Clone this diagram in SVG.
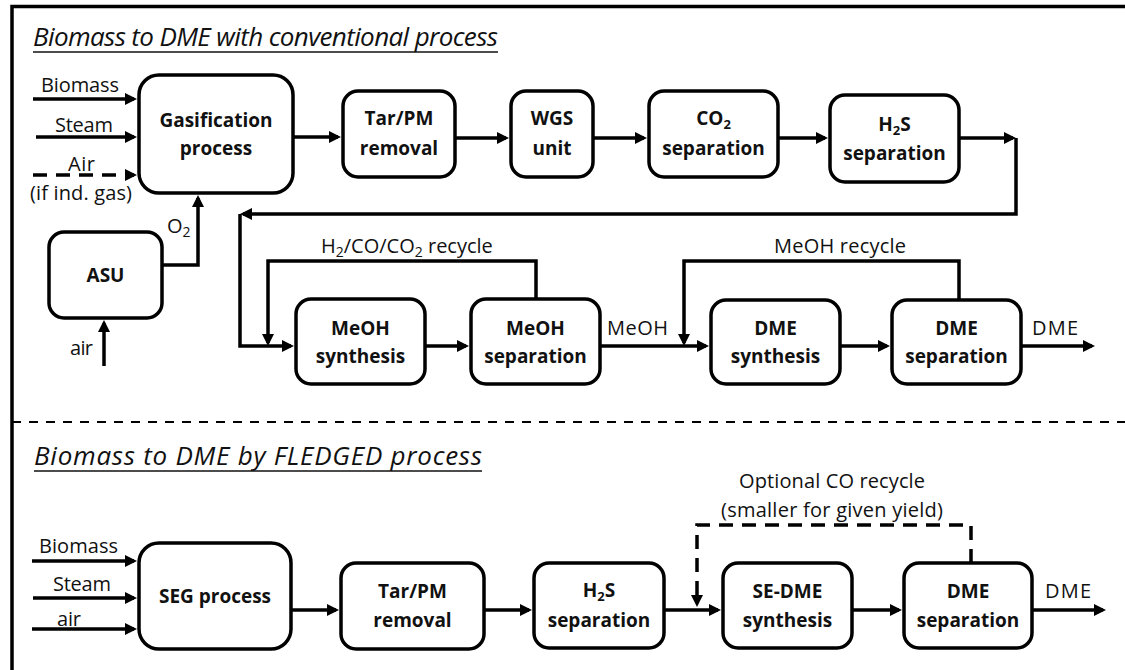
<svg xmlns="http://www.w3.org/2000/svg" width="1125" height="670" viewBox="0 0 1125 670">
<defs>
<style>
.box{fill:#fff;stroke:#000;stroke-width:3.5}
.ln{fill:none;stroke:#000;stroke-width:3.5}
.dash{stroke-dasharray:14 9}
.bl{font-family:'Open Sans','Liberation Sans',sans-serif;font-weight:bold;font-size:19px;text-anchor:middle;fill:#111}
.lb{font-family:'Open Sans','Liberation Sans',sans-serif;font-size:20px;fill:#111}
.tt{font-family:'Open Sans','Liberation Sans',sans-serif;font-style:italic;font-size:26px;fill:#111}
.ul{stroke:#111;stroke-width:1.6}
.frame{fill:none;stroke:#000;stroke-width:3.5}
.sep{stroke:#000;stroke-width:2;stroke-dasharray:9 8}
</style>
<marker id="ah" markerUnits="userSpaceOnUse" markerWidth="13" markerHeight="12" refX="9" refY="6" orient="auto">
<path d="M0,0 L12,6 L0,12 z" fill="#000"/>
</marker>
</defs>
<rect width="1125" height="670" fill="#fff"/>
<path class="frame" d="M12,670 V6.5 H1125"/>
<line class="sep" x1="12" y1="422" x2="1125" y2="422"/>

<g id="titles">
<text class="tt" x="33" y="46" textLength="465">Biomass to DME with conventional process</text>
<line class="ul" x1="33" y1="52" x2="498" y2="52"/>
<text class="tt" x="34" y="465" textLength="448">Biomass to DME by FLEDGED process</text>
<line class="ul" x1="34" y1="471" x2="482" y2="471"/>
</g>

<g id="connectors">
<path class="ln" d="M33,99 H134" marker-end="url(#ah)"/>
<path class="ln" d="M36,137 H134" marker-end="url(#ah)"/>
<path class="ln dash" d="M33,175 H134" marker-end="url(#ah)"/>
<path class="ln" d="M293,137 H338" marker-end="url(#ah)"/>
<path class="ln" d="M455,138 H506" marker-end="url(#ah)"/>
<path class="ln" d="M593,138 H644" marker-end="url(#ah)"/>
<path class="ln" d="M778,138 H825" marker-end="url(#ah)"/>
<path class="ln" d="M959,138 H1013" marker-end="url(#ah)"/>
<path class="ln" d="M1016,138 V214 H243" marker-end="url(#ah)"/>
<path class="ln" d="M240,214 V346 H291" marker-end="url(#ah)"/>
<path class="ln" d="M162,265 H198 V198" marker-end="url(#ah)"/>
<path class="ln" d="M104,366 V323" marker-end="url(#ah)"/>
<path class="ln" d="M536,299 V261 H268 V343" marker-end="url(#ah)"/>
<path class="ln" d="M425,346 H466" marker-end="url(#ah)"/>
<path class="ln" d="M600,346 H706" marker-end="url(#ah)"/>
<path class="ln" d="M959,300 V261 H684 V343" marker-end="url(#ah)"/>
<path class="ln" d="M840,346 H887" marker-end="url(#ah)"/>
<path class="ln" d="M1021,346 H1092" marker-end="url(#ah)"/>

<path class="ln" d="M32,561 H134" marker-end="url(#ah)"/>
<path class="ln" d="M33,598 H134" marker-end="url(#ah)"/>
<path class="ln" d="M32,629 H134" marker-end="url(#ah)"/>
<path class="ln" d="M291,610 H336" marker-end="url(#ah)"/>
<path class="ln" d="M484,610 H529" marker-end="url(#ah)"/>
<path class="ln" d="M664,610 H718" marker-end="url(#ah)"/>
<path class="ln dash" d="M971,563 V525 H697 V604" marker-end="url(#ah)"/>
<path class="ln" d="M852,610 H899" marker-end="url(#ah)"/>
<path class="ln" d="M1032,610 H1103" marker-end="url(#ah)"/>
</g>

<g id="connector-labels">
<text class="lb" x="41" y="92" textLength="78">Biomass</text>
<text class="lb" x="55" y="132" textLength="58">Steam</text>
<text class="lb" x="68" y="171" textLength="27">Air</text>
<text class="lb" x="30" y="200" textLength="102">(if ind. gas)</text>
<text class="lb" x="167" y="233">O<tspan font-size="14" dy="4">2</tspan></text>
<text class="lb" x="70" y="355" textLength="23">air</text>
<text class="lb" x="321" y="253">H<tspan font-size="14" dy="4">2</tspan><tspan dy="-4">/CO/CO</tspan><tspan font-size="14" dy="4">2</tspan><tspan dy="-4"> recycle</tspan></text>
<text class="lb" x="607" y="335" textLength="61">MeOH</text>
<text class="lb" x="774" y="253" textLength="132">MeOH recycle</text>
<text class="lb" x="1032" y="335" textLength="46">DME</text>
<text class="lb" x="39" y="553" textLength="79">Biomass</text>
<text class="lb" x="53" y="591" textLength="58">Steam</text>
<text class="lb" x="57" y="626" textLength="24">air</text>
<text class="lb" x="739" y="488" textLength="186">Optional CO recycle</text>
<text class="lb" x="721" y="517" textLength="222">(smaller for given yield)</text>
<text class="lb" x="1045" y="598" textLength="46">DME</text>
</g>

<g id="gasification">
<rect class="box" x="139" y="75" width="154" height="118" rx="20"/>
<text class="bl" x="216" y="127">Gasification</text>
<text class="bl" x="216" y="155">process</text>
</g>
<g id="tarpm1">
<rect class="box" x="343" y="91" width="112" height="86" rx="15"/>
<text class="bl" x="399" y="125">Tar/PM</text>
<text class="bl" x="399" y="155">removal</text>
</g>
<g id="wgs">
<rect class="box" x="511" y="91" width="82" height="86" rx="15"/>
<text class="bl" x="552" y="125">WGS</text>
<text class="bl" x="552" y="155">unit</text>
</g>
<g id="co2sep">
<rect class="box" x="649" y="91" width="129" height="86" rx="15"/>
<text class="bl" x="713.5" y="125">CO<tspan font-size="13" dy="4">2</tspan></text>
<text class="bl" x="713.5" y="155">separation</text>
</g>
<g id="h2ssep1">
<rect class="box" x="830" y="95" width="129" height="87" rx="15"/>
<text class="bl" x="894.5" y="131">H<tspan font-size="13" dy="4">2</tspan><tspan dy="-4">S</tspan></text>
<text class="bl" x="894.5" y="160">separation</text>
</g>
<g id="asu">
<rect class="box" x="49" y="232" width="113" height="86" rx="15"/>
<text class="bl" x="105.5" y="282">ASU</text>
</g>
<g id="meohsyn">
<rect class="box" x="296" y="299" width="129" height="85" rx="15"/>
<text class="bl" x="360.5" y="335">MeOH</text>
<text class="bl" x="360.5" y="363">synthesis</text>
</g>
<g id="meohsep">
<rect class="box" x="471" y="299" width="129" height="85" rx="15"/>
<text class="bl" x="535.5" y="335">MeOH</text>
<text class="bl" x="535.5" y="363">separation</text>
</g>
<g id="dmesyn">
<rect class="box" x="711" y="300" width="129" height="84" rx="15"/>
<text class="bl" x="775.5" y="335">DME</text>
<text class="bl" x="775.5" y="363">synthesis</text>
</g>
<g id="dmesep1">
<rect class="box" x="892" y="300" width="129" height="84" rx="15"/>
<text class="bl" x="956.5" y="335">DME</text>
<text class="bl" x="956.5" y="363">separation</text>
</g>

<g id="seg">
<rect class="box" x="139" y="543" width="152" height="106" rx="20"/>
<text class="bl" x="215" y="603">SEG process</text>
</g>
<g id="tarpm2">
<rect class="box" x="341" y="563" width="143" height="86" rx="15"/>
<text class="bl" x="412.5" y="598">Tar/PM</text>
<text class="bl" x="412.5" y="627">removal</text>
</g>
<g id="h2ssep2">
<rect class="box" x="534" y="563" width="130" height="85" rx="15"/>
<text class="bl" x="599" y="597">H<tspan font-size="13" dy="4">2</tspan><tspan dy="-4">S</tspan></text>
<text class="bl" x="599" y="627">separation</text>
</g>
<g id="sedme">
<rect class="box" x="723" y="563" width="129" height="85" rx="15"/>
<text class="bl" x="787.5" y="598">SE-DME</text>
<text class="bl" x="787.5" y="627">synthesis</text>
</g>
<g id="dmesep2">
<rect class="box" x="904" y="563" width="128" height="85" rx="15"/>
<text class="bl" x="968" y="598">DME</text>
<text class="bl" x="968" y="627">separation</text>
</g>
</svg>
